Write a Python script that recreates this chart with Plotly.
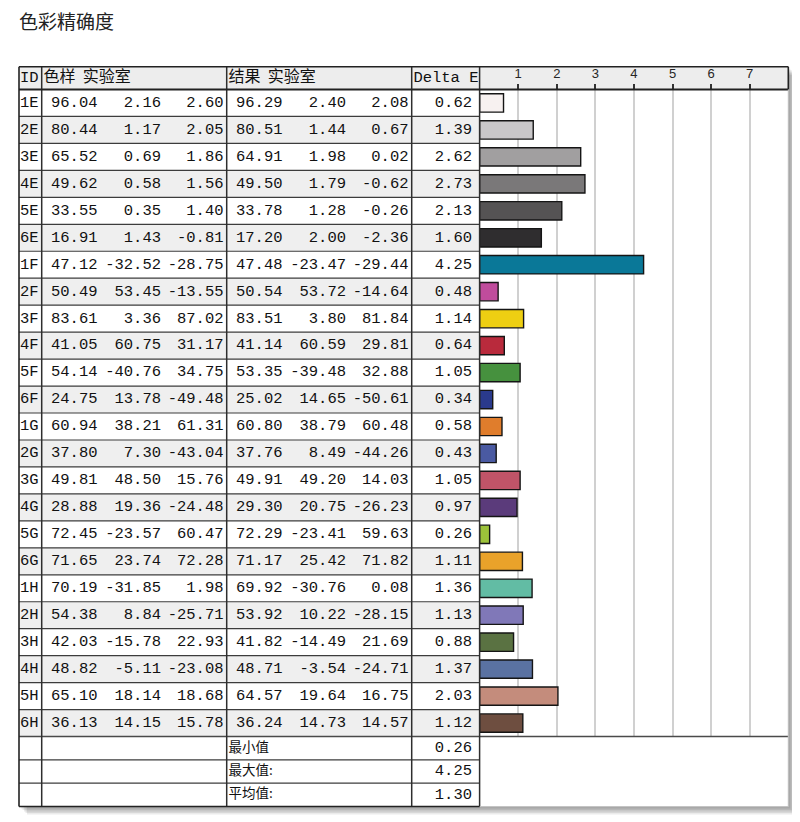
import plotly.graph_objects as go

# ---------------- data ----------------
ids = ["1E", "2E", "3E", "4E", "5E", "6E",
       "1F", "2F", "3F", "4F", "5F", "6F",
       "1G", "2G", "3G", "4G", "5G", "6G",
       "1H", "2H", "3H", "4H", "5H", "6H"]
sample_L = [96.04, 80.44, 65.52, 49.62, 33.55, 16.91,
            47.12, 50.49, 83.61, 41.05, 54.14, 24.75,
            60.94, 37.80, 49.81, 28.88, 72.45, 71.65,
            70.19, 54.38, 42.03, 48.82, 65.10, 36.13]
sample_a = [2.16, 1.17, 0.69, 0.58, 0.35, 1.43,
            -32.52, 53.45, 3.36, 60.75, -40.76, 13.78,
            38.21, 7.30, 48.50, 19.36, -23.57, 23.74,
            -31.85, 8.84, -15.78, -5.11, 18.14, 14.15]
sample_b = [2.60, 2.05, 1.86, 1.56, 1.40, -0.81,
            -28.75, -13.55, 87.02, 31.17, 34.75, -49.48,
            61.31, -43.04, 15.76, -24.48, 60.47, 72.28,
            1.98, -25.71, 22.93, -23.08, 18.68, 15.78]
result_L = [96.29, 80.51, 64.91, 49.50, 33.78, 17.20,
            47.48, 50.54, 83.51, 41.14, 53.35, 25.02,
            60.80, 37.76, 49.91, 29.30, 72.29, 71.17,
            69.92, 53.92, 41.82, 48.71, 64.57, 36.24]
result_a = [2.40, 1.44, 1.98, 1.79, 1.28, 2.00,
            -23.47, 53.72, 3.80, 60.59, -39.48, 14.65,
            38.79, 8.49, 49.20, 20.75, -23.41, 25.42,
            -30.76, 10.22, -14.49, -3.54, 19.64, 14.73]
result_b = [2.08, 0.67, 0.02, -0.62, -0.26, -2.36,
            -29.44, -14.64, 81.84, 29.81, 32.88, -50.61,
            60.48, -44.26, 14.03, -26.23, 59.63, 71.82,
            0.08, -28.15, 21.69, -24.71, 16.75, 14.57]
delta_e = [0.62, 1.39, 2.62, 2.73, 2.13, 1.60,
           4.25, 0.48, 1.14, 0.64, 1.05, 0.34,
           0.58, 0.43, 1.05, 0.97, 0.26, 1.11,
           1.36, 1.13, 0.88, 1.37, 2.03, 1.12]
bar_colors = ["#f7f1f0", "#c9c7c9", "#a19fa0", "#7a7879", "#555354", "#2f2d2f",
              "#0a7898", "#c04c9c", "#eecf12", "#b92a3c", "#46913e", "#2a3a8c",
              "#e07d2c", "#4a5aa2", "#c05468", "#5b3b7b", "#9cc23a", "#e9a22a",
              "#62bca4", "#8078b8", "#5a7242", "#5a72a2", "#c48c7c", "#6e4e40"]
summary_labels = ["最小值", "最大值:", "平均值:"]
summary_values = [0.26, 4.25, 1.30]
title_text = "色彩精确度"
header_id = "ID"
header_sample = "色样\u00a0\u00a0实验室"
header_result = "结果\u00a0\u00a0实验室"
header_delta = "Delta E"
tick_values = [1, 2, 3, 4, 5, 6, 7]

# ---------------- layout constants (window pixels) ----------------
WIN_W, WIN_H = 800, 822
OFF = 8  # default page body margin
FIG_W, FIG_H = WIN_W - OFF, WIN_H - OFF
X_LEFT, X_ID, X_S, X_R, X_D, X_RIGHT = 19.0, 41.7, 226.7, 411.7, 479.6, 788.3
Y_TOP, Y_HEAD = 66.7, 89.5
N = len(ids)
ROW_H = 26.96
Y_DATA_END = Y_HEAD + N * ROW_H
SUM_H = 23.33
Y_BOTTOM = Y_DATA_END + len(summary_labels) * SUM_H


def px(x):
    return (x - OFF) / FIG_W


def py(y):
    return 1 - (y - OFF) / FIG_H


MONO = "Liberation Mono, DejaVu Sans Mono, monospace"
CJK = "Noto Sans CJK SC, sans-serif"
TXT = "#111111"
NUM_SIZE = 15.5

row_c = [Y_HEAD + (i + 0.5) * ROW_H for i in range(N)]
sum_c = [Y_DATA_END + (j + 0.5) * SUM_H for j in range(len(summary_labels))]
head_c = (Y_TOP + Y_HEAD) / 2


def fmt(v):
    return f"{v:.2f}"


fig = go.Figure()

# ---------------- bar chart ----------------
fig.add_trace(go.Bar(
    x=delta_e, y=ids, orientation="h",
    marker=dict(color=bar_colors, line=dict(color="#151515", width=1.4)),
    width=0.68, xaxis="x", yaxis="y", hoverinfo="x+y", showlegend=False,
))

# ---------------- table text ----------------
col_right = [97.5, 161.0, 223.5, 282.5, 346.0, 408.5]
cols = [sample_L, sample_a, sample_b, result_L, result_a, result_b]
tx, ty, tt = [], [], []
for xr, vals in zip(col_right, cols):
    for i, v in enumerate(vals):
        tx.append(xr); ty.append(row_c[i]); tt.append(fmt(v))
for i, v in enumerate(delta_e):
    tx.append(472.0); ty.append(row_c[i]); tt.append(fmt(v))
for j, v in enumerate(summary_values):
    tx.append(472.0); ty.append(sum_c[j]); tt.append(fmt(v))
tx.append(478.5); ty.append(head_c); tt.append(header_delta)
fig.add_trace(go.Scatter(
    x=tx, y=ty, text=tt, mode="text", textposition="middle left",
    textfont=dict(family=MONO, size=NUM_SIZE, color=TXT),
    xaxis="x2", yaxis="y2", hoverinfo="skip", showlegend=False,
))

# left aligned mono (ids, header ID)
lx = [20.0] * N + [20.0]
ly = row_c + [head_c]
lt = ids + [header_id]
fig.add_trace(go.Scatter(
    x=lx, y=ly, text=lt, mode="text", textposition="middle right",
    textfont=dict(family=MONO, size=NUM_SIZE, color=TXT),
    xaxis="x2", yaxis="y2", hoverinfo="skip", showlegend=False,
))

# CJK header text
fig.add_trace(go.Scatter(
    x=[43.5, 228.5], y=[head_c, head_c], text=[header_sample, header_result],
    mode="text", textposition="middle right",
    textfont=dict(family=CJK, size=16, color=TXT),
    xaxis="x2", yaxis="y2", hoverinfo="skip", showlegend=False,
))

# CJK summary labels
fig.add_trace(go.Scatter(
    x=[228.5] * len(summary_labels), y=sum_c, text=summary_labels,
    mode="text", textposition="middle right",
    textfont=dict(family=CJK, size=13.5, color=TXT),
    xaxis="x2", yaxis="y2", hoverinfo="skip", showlegend=False,
))

# ---------------- shapes ----------------
shapes = []


def rect(x0, y0, x1, y1, fill, layer="below"):
    shapes.append(dict(type="rect", xref="paper", yref="paper",
                       x0=px(x0), x1=px(x1), y0=py(y1), y1=py(y0),
                       fillcolor=fill, line=dict(width=0), layer=layer))


def line(x0, y0, x1, y1, color, width, layer="above"):
    shapes.append(dict(type="line", xref="paper", yref="paper",
                       x0=px(x0), x1=px(x1), y0=py(y0), y1=py(y1),
                       line=dict(color=color, width=width), layer=layer))


# drop shadow
for k in [2, 3.5, 5, 6.5, 8]:
    rect(X_LEFT + k, Y_TOP + k, X_RIGHT + k, Y_BOTTOM + k, "rgba(0,0,0,0.08)")
# base fills
rect(X_LEFT, Y_TOP, X_RIGHT, Y_BOTTOM, "#ffffff")
rect(X_LEFT, Y_TOP, X_RIGHT, Y_HEAD, "#ededed")
for i in range(N):
    if i % 2 == 1:
        rect(X_LEFT, Y_HEAD + i * ROW_H, X_D, Y_HEAD + (i + 1) * ROW_H, "#efefef")

# row lines in the table
for i in range(1, N):
    yy = Y_HEAD + i * ROW_H
    line(X_LEFT, yy, X_D, yy, "#3c3c3c", 1.2)
for j in range(1, len(summary_labels)):
    yy = Y_DATA_END + j * SUM_H
    line(X_LEFT, yy, X_D, yy, "#3c3c3c", 1.2)
line(X_LEFT, Y_DATA_END, X_RIGHT, Y_DATA_END, "#4a4a4a", 1.6)
# vertical lines
for xx in [X_ID, X_S, X_R, X_D]:
    line(xx, Y_TOP, xx, Y_BOTTOM, "#2e2e2e", 1.5)
line(X_LEFT, Y_TOP, X_LEFT, Y_BOTTOM, "#222222", 1.6)
# header box
line(X_LEFT, Y_TOP, X_RIGHT, Y_TOP, "#222222", 1.6)
line(X_LEFT, Y_HEAD, X_RIGHT, Y_HEAD, "#222222", 2.2)
line(X_RIGHT, Y_TOP, X_RIGHT, Y_HEAD, "#222222", 1.6)
# chart and summary right / bottom edges
line(X_RIGHT, Y_HEAD, X_RIGHT, Y_BOTTOM, "#bdbdbd", 1)
line(X_D, Y_BOTTOM, X_RIGHT, Y_BOTTOM, "#c4c4c4", 1)
line(X_LEFT, Y_BOTTOM, X_D, Y_BOTTOM, "#222222", 1.6)

fig.update_layout(
    width=FIG_W, height=FIG_H,
    margin=dict(l=0, r=0, t=0, b=0),
    paper_bgcolor="#ffffff",
    plot_bgcolor="rgba(0,0,0,0)",
    showlegend=False,
    shapes=shapes,
    xaxis=dict(
        domain=[px(X_D), px(X_RIGHT)], range=[0, 8], side="top",
        tickmode="array", tickvals=tick_values,
        ticktext=[str(v) for v in tick_values],
        ticks="outside", ticklen=5, tickwidth=1.5, tickcolor="#333333",
        tickfont=dict(family="Liberation Sans, Arial, sans-serif", size=13, color="#262626"),
        showgrid=True, gridcolor="#d0d0d0", gridwidth=1.8,
        zeroline=False, showline=False, fixedrange=True,
    ),
    yaxis=dict(
        domain=[py(Y_DATA_END), py(Y_HEAD)], type="category",
        categoryorder="array", categoryarray=ids,
        range=[N - 0.5, -0.5], showticklabels=False, ticks="",
        showgrid=False, zeroline=False, showline=False, fixedrange=True,
    ),
    xaxis2=dict(domain=[0, 1], range=[OFF, WIN_W], visible=False, fixedrange=True,
                anchor="y2"),
    yaxis2=dict(domain=[0, 1], range=[WIN_H, OFF], visible=False, fixedrange=True,
                anchor="x2"),
    annotations=[dict(
        text=title_text, xref="paper", yref="paper",
        x=px(17), y=py(20), xanchor="left", yanchor="middle",
        showarrow=False, font=dict(family=CJK, size=19, color="#222222"),
    )],
)

fig.write_html("out.html")
